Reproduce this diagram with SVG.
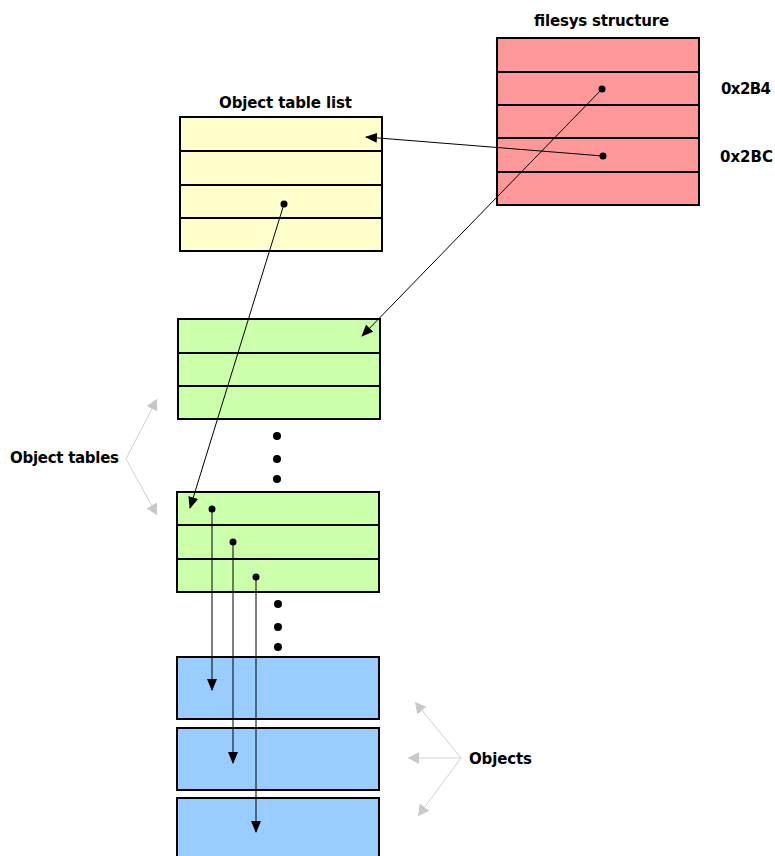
<svg xmlns="http://www.w3.org/2000/svg" width="775" height="856" viewBox="0 0 775 856">
<style>
.box{stroke:#000;stroke-width:2}
.sep{stroke:#000;stroke-width:2}
.fs{fill:#FF9999}
.ot{fill:#FFFFCC}
.tb{fill:#CCFFAA}
.ob{fill:#99CCFF}
.lbl{font-family:"DejaVu Sans",Verdana,sans-serif;font-weight:bold;font-size:15px;fill:#000}
.con{stroke:#000;stroke-width:1;fill:none;marker-end:url(#ah)}
.gray{stroke:#D0D0D0;stroke-width:1;fill:none;marker-end:url(#gh)}
</style>
<defs>
<marker id="ah" markerUnits="userSpaceOnUse" markerWidth="12" markerHeight="10" refX="11" refY="5" orient="auto">
<path d="M0,0 L12,5 L0,10 Z" fill="#000"/>
</marker>
<marker id="gh" markerUnits="userSpaceOnUse" markerWidth="12" markerHeight="12" refX="11" refY="6" orient="auto">
<path d="M0,0 L11,6 L0,12 Z" fill="#C8C8C8"/>
</marker>
</defs>
<rect width="775" height="856" fill="#fff"/>
<g id="filesys">
<text class="lbl" x="601.5" y="26" text-anchor="middle" textLength="135">filesys structure</text>
<rect class="box fs" x="497" y="38" width="202" height="167"/>
<line class="sep" x1="497" y1="72" x2="699" y2="72"/>
<line class="sep" x1="497" y1="105" x2="699" y2="105"/>
<line class="sep" x1="497" y1="138" x2="699" y2="138"/>
<line class="sep" x1="497" y1="172" x2="699" y2="172"/>
<text class="lbl" x="721" y="94" textLength="50">0x2B4</text>
<text class="lbl" x="720" y="162" textLength="53">0x2BC</text>
</g>
<g id="objtablelist">
<text class="lbl" x="285.5" y="108" text-anchor="middle" textLength="133">Object table list</text>
<rect class="box ot" x="180" y="117" width="202" height="134"/>
<line class="sep" x1="180" y1="151" x2="382" y2="151"/>
<line class="sep" x1="180" y1="185" x2="382" y2="185"/>
<line class="sep" x1="180" y1="218" x2="382" y2="218"/>
</g>
<g id="table1">
<rect class="box tb" x="178" y="319" width="202" height="100"/>
<line class="sep" x1="178" y1="353" x2="380" y2="353"/>
<line class="sep" x1="178" y1="386" x2="380" y2="386"/>
</g>
<g id="dots1">
<circle cx="277" cy="436" r="4"/>
<circle cx="277" cy="459" r="4"/>
<circle cx="277" cy="479" r="4"/>
</g>
<g id="table2">
<rect class="box tb" x="177" y="492" width="202" height="100"/>
<line class="sep" x1="177" y1="525" x2="379" y2="525"/>
<line class="sep" x1="177" y1="559" x2="379" y2="559"/>
</g>
<g id="dots2">
<circle cx="278" cy="604" r="4"/>
<circle cx="278" cy="627" r="4"/>
<circle cx="278" cy="647" r="4"/>
</g>
<g id="object1"><rect class="box ob" x="177" y="657" width="202" height="62"/></g>
<g id="object2"><rect class="box ob" x="177" y="728" width="202" height="62"/></g>
<g id="object3"><rect class="box ob" x="177" y="798" width="202" height="62"/></g>
<g id="objtableslabel">
<text class="lbl" x="10" y="463" textLength="109">Object tables</text>
</g>
<g id="objectslabel">
<text class="lbl" x="469" y="764" textLength="63">Objects</text>
</g>
<g id="connectors">
<line class="con" x1="603" y1="156" x2="366" y2="137"/>
<line class="con" x1="602" y1="89" x2="362" y2="336"/>
<line class="con" x1="284" y1="204" x2="190" y2="508"/>
<line class="con" x1="212" y1="509" x2="212" y2="690"/>
<line class="con" x1="233" y1="542" x2="233" y2="763"/>
<line class="con" x1="256" y1="577" x2="256" y2="832"/>
<circle cx="603" cy="156" r="3.5"/>
<circle cx="602" cy="89" r="3.5"/>
<circle cx="284" cy="204" r="3.5"/>
<circle cx="212" cy="509" r="3.5"/>
<circle cx="233" cy="542" r="3.5"/>
<circle cx="256" cy="577" r="3.5"/>
<line class="gray" x1="126" y1="459" x2="157" y2="399"/>
<line class="gray" x1="126" y1="459" x2="157" y2="515"/>
<line class="gray" x1="461" y1="758" x2="415" y2="702"/>
<line class="gray" x1="461" y1="758" x2="408" y2="758"/>
<line class="gray" x1="461" y1="758" x2="418" y2="816"/>
</g>
</svg>
